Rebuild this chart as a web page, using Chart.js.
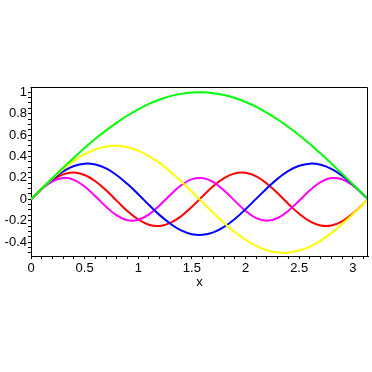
<!DOCTYPE html>
<html>
<head>
<meta charset="utf-8">
<script src="https://cdn.jsdelivr.net/npm/chart.js@4"></script>
<style>
  html, body { margin: 0; padding: 0; background: #ffffff; }
  #wrap { width: 372px; height: 372px; }
</style>
</head>
<body>
<div id="wrap"><canvas id="c" width="372" height="372"></canvas></div>
<script>
// x samples (0 .. pi)
const xValues = [0, 0.1, 0.2, 0.3, 0.4, 0.5, 0.6, 0.7, 0.8, 0.9, 1.0, 1.1, 1.2, 1.3, 1.4, 1.5,
  1.6, 1.7, 1.8, 1.9, 2.0, 2.1, 2.2, 2.3, 2.4, 2.5, 2.6, 2.7, 2.8, 2.9, 3.0, 3.1, 3.1416];

const greenValues = [0, 0.100, 0.199, 0.296, 0.389, 0.479, 0.565, 0.644, 0.717, 0.783, 0.841, 0.891, 0.932, 0.964, 0.985, 0.997,
  1.000, 0.992, 0.974, 0.946, 0.909, 0.863, 0.808, 0.746, 0.675, 0.598, 0.516, 0.427, 0.335, 0.239, 0.141, 0.042, 0];

const yellowValues = [0, 0.099, 0.195, 0.282, 0.359, 0.421, 0.466, 0.493, 0.500, 0.487, 0.455, 0.404, 0.338, 0.258, 0.167, 0.071,
  -0.029, -0.128, -0.221, -0.306, -0.378, -0.436, -0.476, -0.497, -0.498, -0.479, -0.442, -0.386, -0.316, -0.232, -0.140, -0.042, 0];

const blueValues = [0, 0.099, 0.188, 0.261, 0.311, 0.333, 0.325, 0.288, 0.225, 0.142, 0.047, -0.053, -0.148, -0.229, -0.291, -0.326,
  -0.332, -0.309, -0.258, -0.184, -0.093, 0.006, 0.104, 0.193, 0.265, 0.313, 0.333, 0.323, 0.285, 0.221, 0.137, 0.042, 0];

const redValues = [0, 0.097, 0.179, 0.233, 0.250, 0.227, 0.169, 0.084, -0.015, -0.111, -0.189, -0.238, -0.249, -0.221, -0.158, -0.070,
  0.029, 0.124, 0.198, 0.242, 0.247, 0.214, 0.146, 0.056, -0.044, -0.136, -0.207, -0.245, -0.245, -0.206, -0.134, -0.041, 0];

const magentaValues = [0, 0.096, 0.168, 0.200, 0.182, 0.120, 0.028, -0.070, -0.151, -0.196, -0.192, -0.141, -0.056, 0.043, 0.131, 0.188,
  0.198, 0.160, 0.082, -0.015, -0.109, -0.176, -0.200, -0.175, -0.107, -0.013, 0.084, 0.161, 0.198, 0.187, 0.130, 0.041, 0];

const xMin = 0, xMax = 3.1416, xStep = 0.1;
const yMin = -0.53, yMax = 1.04, yStep = 0.05;
const xLabelEvery = 0.5, yLabelEvery = 0.2;
const axisTitle = 'x';

function pts(ys) { return xValues.map((x, i) => ({ x: x, y: ys[i] })); }
function series(ys, color) {
  return { data: pts(ys), borderColor: color, backgroundColor: color, borderWidth: 2,
           pointRadius: 0, tension: 0.4, fill: false };
}
function isMultiple(v, m) {
  const r = v / m;
  return Math.abs(r - Math.round(r)) < 1e-6;
}
function fmt(v) { return String(parseFloat(v.toFixed(2))); }

const FONT = { family: '"Liberation Sans", Arial, sans-serif', size: 13 };

const framePlugin = {
  id: 'frame',
  afterDraw(chart) {
    const a = chart.chartArea, ctx = chart.ctx;
    ctx.save();
    ctx.strokeStyle = '#000';
    ctx.lineWidth = 1;
    ctx.beginPath();
    ctx.moveTo(Math.round(a.left) - 0.5, Math.round(a.top) - 0.5);
    ctx.lineTo(Math.round(a.right) - 0.5, Math.round(a.top) - 0.5);
    ctx.lineTo(Math.round(a.right) - 0.5, Math.round(a.bottom) + 0.5);
    ctx.stroke();
    ctx.restore();
  }
};

new Chart(document.getElementById('c'), {
  type: 'line',
  data: {
    datasets: [
      series(greenValues, '#00ff00'),
      series(yellowValues, '#ffff00'),
      series(blueValues, '#0000ff'),
      series(magentaValues, '#ff00ff'),
      series(redValues, '#ff0000')
    ]
  },
  options: {
    responsive: false,
    animation: false,
    events: [],
    layout: { padding: { top: 88, right: 4, left: 0, bottom: 82 } },
    plugins: { legend: { display: false }, tooltip: { enabled: false } },
    scales: {
      x: {
        type: 'linear', min: xMin, max: xMax,
        afterFit(s) { s.height = 34; },
        border: { display: true, color: '#000', width: 1 },
        grid: { display: true, drawOnChartArea: false, drawTicks: true, tickLength: 3, color: '#000', tickColor: '#000' },
        ticks: {
          stepSize: xStep, autoSkip: false, includeBounds: false, maxRotation: 0, padding: 2, color: '#000', font: FONT,
          callback: (v) => isMultiple(v, xLabelEvery) ? fmt(v) : ''
        },
        title: { display: true, text: axisTitle, color: '#000', font: FONT, padding: { top: 0, bottom: 0 } }
      },
      y: {
        type: 'linear', min: yMin, max: yMax,
        afterFit(s) { s.width = 31; },
        border: { display: true, color: '#000', width: 1 },
        grid: { display: true, drawOnChartArea: false, drawTicks: true, tickLength: 3, color: '#000', tickColor: '#000' },
        ticks: {
          stepSize: yStep, autoSkip: false, includeBounds: false, padding: 1, color: '#000', font: FONT,
          callback: (v) => isMultiple(v, yLabelEvery) ? fmt(v) : ''
        }
      }
    }
  },
  plugins: [framePlugin]
});
</script>
</body>
</html>
